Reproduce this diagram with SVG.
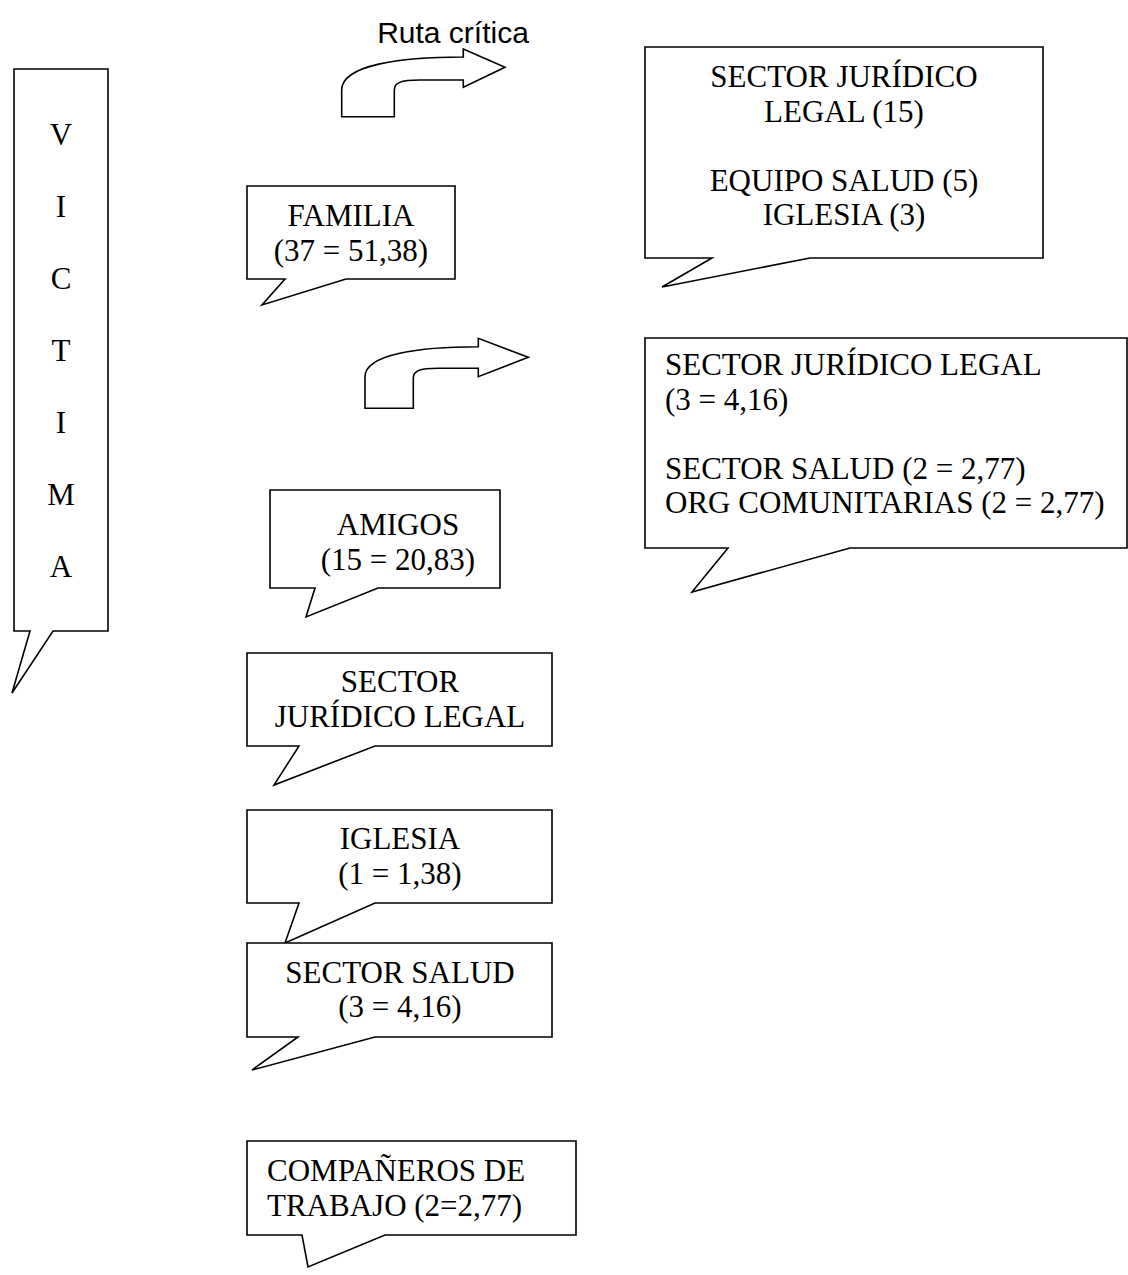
<svg xmlns="http://www.w3.org/2000/svg" width="1128" height="1275" viewBox="0 0 1128 1275">
<style>
.c{fill:#fff;stroke:#000;stroke-width:1.6;stroke-linejoin:miter}
.t{font-family:"Liberation Serif","Times New Roman",serif;font-size:31px;fill:#000}
.m{text-anchor:middle}
.a{font-family:"Liberation Sans",Arial,sans-serif;font-size:30px;fill:#000;text-anchor:middle}
</style>
<rect width="1128" height="1275" fill="#fff"/>
<text class="a" x="453" y="43">Ruta crítica</text>
<g id="connectors">
<path class="c" d="M341.7,116.7 L394.3,116.7 L394.3,90 C394.3,83 400,80 420,80 L463.3,80 L463.3,87.3 L505,67.3 L463.3,49 L463.3,57 C400,57 341.7,65 341.7,90 Z"/>
<path class="c" d="M365,408.3 L413.3,408.3 L413.3,378 C413.3,371 419,368.3 438,368.3 L478.3,368.3 L478.3,376.7 L528.3,357.3 L478.3,338.3 L478.3,346.7 C420,346.7 365,354 365,376.7 Z"/>
</g>
<g id="victima">
<path class="c" d="M14,69 L108,69 L108,631 L53,631 L12,693 L30,631 L14,631 Z"/>
<g class="t m">
<text x="61" y="145">V</text>
<text x="61" y="217">I</text>
<text x="61" y="289">C</text>
<text x="61" y="361">T</text>
<text x="61" y="433">I</text>
<text x="61" y="505">M</text>
<text x="61" y="577">A</text>
</g>
</g>
<g id="familia">
<path class="c" d="M247,186 L455,186 L455,279 L346,279 L262,305 L285,279 L247,279 Z"/>
<text class="t m" x="351" y="226">FAMILIA</text>
<text class="t m" x="351" y="260.5">(37 = 51,38)</text>
</g>
<g id="top-right">
<path class="c" d="M645,47 L1043,47 L1043,258 L810,258 L662,287 L712,258 L645,258 Z"/>
<text class="t m" x="844" y="87">SECTOR JURÍDICO</text>
<text class="t m" x="844" y="121.5">LEGAL (15)</text>
<text class="t m" x="844" y="190.5">EQUIPO SALUD (5)</text>
<text class="t m" x="844" y="225">IGLESIA (3)</text>
</g>
<g id="mid-right">
<path class="c" d="M645,338 L1127,338 L1127,548 L850,548 L692,592 L728,548 L645,548 Z"/>
<text class="t" x="665" y="375">SECTOR JURÍDICO LEGAL</text>
<text class="t" x="665" y="409.5">(3 = 4,16)</text>
<text class="t" x="665" y="478.5">SECTOR SALUD (2 = 2,77)</text>
<text class="t" x="665" y="513">ORG COMUNITARIAS (2 = 2,77)</text>
</g>
<g id="amigos">
<path class="c" d="M270,490 L500,490 L500,588 L378,588 L306,617 L315,588 L270,588 Z"/>
<text class="t m" x="398" y="535">AMIGOS</text>
<text class="t m" x="398" y="570">(15 = 20,83)</text>
</g>
<g id="juridico">
<path class="c" d="M247,653 L552,653 L552,746 L375,746 L274,785 L299,746 L247,746 Z"/>
<text class="t m" x="400" y="692">SECTOR</text>
<text class="t m" x="400" y="727">JURÍDICO LEGAL</text>
</g>
<g id="iglesia">
<path class="c" d="M247,810 L552,810 L552,903 L375,903 L285,943 L299,903 L247,903 Z"/>
<text class="t m" x="400" y="849">IGLESIA</text>
<text class="t m" x="400" y="884">(1 = 1,38)</text>
</g>
<g id="salud">
<path class="c" d="M247,943 L552,943 L552,1037 L375,1037 L252,1070 L298,1037 L247,1037 Z"/>
<text class="t m" x="400" y="983">SECTOR SALUD</text>
<text class="t m" x="400" y="1017">(3 = 4,16)</text>
</g>
<g id="companeros">
<path class="c" d="M247,1141 L576,1141 L576,1235 L385,1235 L308,1267 L302,1235 L247,1235 Z"/>
<text class="t" x="267" y="1181">COMPAÑEROS DE</text>
<text class="t" x="267" y="1216">TRABAJO (2=2,77)</text>
</g>
</svg>
